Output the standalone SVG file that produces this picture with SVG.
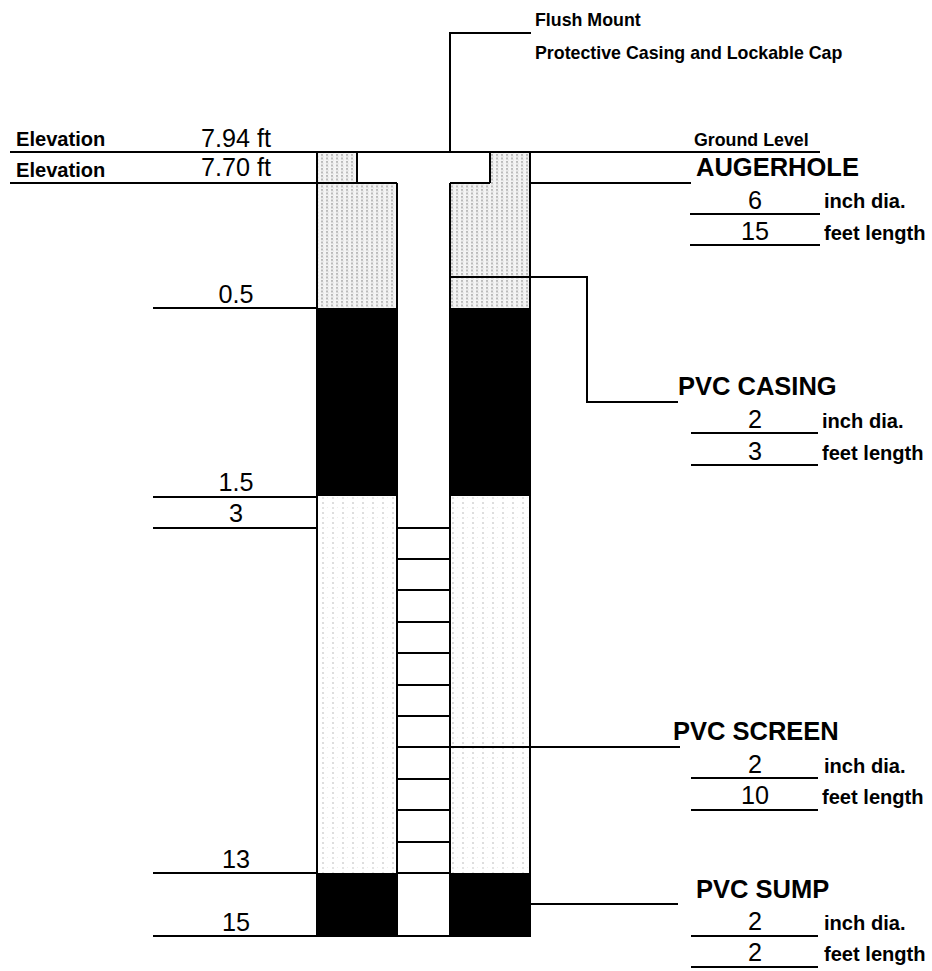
<svg xmlns="http://www.w3.org/2000/svg" width="932" height="971" viewBox="0 0 932 971">
<style>
text{font-family:"Liberation Sans",Arial,sans-serif;fill:#000}
.lbl{font-weight:bold;font-size:20.1px}
.sm{font-weight:bold;font-size:17.8px}
.val{font-size:25.2px}
.hd{font-weight:bold;font-size:25.5px}
.l{stroke:#000;stroke-width:2;fill:none}
</style>
<defs>
<pattern id="dense" width="5" height="3.5" patternUnits="userSpaceOnUse"><rect width="5" height="3.5" fill="#f4f4f4"/><rect x="1" y="0" width="2" height="2" fill="#bbb"/><rect x="3" y="2" width="1" height="1" fill="#ddd"/></pattern>
<pattern id="light" width="10" height="10" patternUnits="userSpaceOnUse"><rect width="10" height="10" fill="#fff"/><rect x="2" y="2" width="2" height="2" fill="#ddd"/><rect x="7" y="7" width="1" height="1" fill="#eee"/><rect x="2" y="7" width="2" height="2" fill="#e4e4e4"/></pattern>
</defs>
<g id="fill-layers">
<rect x="317" y="152" width="40" height="31" fill="url(#dense)"/>
<rect x="490" y="152" width="40" height="31" fill="url(#dense)"/>
<rect x="317" y="183" width="80" height="125" fill="url(#dense)"/>
<rect x="450" y="183" width="80" height="125" fill="url(#dense)"/>
<rect x="316" y="308" width="82" height="188"/>
<rect x="449" y="308" width="82" height="188"/>
<rect x="317" y="496" width="80" height="377" fill="url(#light)"/>
<rect x="450" y="496" width="80" height="377" fill="url(#light)"/>
<rect x="316" y="873" width="82" height="64"/>
<rect x="449" y="873" width="82" height="64"/>
</g>
<g id="connectors">
<path class="l" d="M10 152H820M10 183H397M450 183H490M530 183H691"/>
<path class="l" d="M317 152V936M357 152V183M397 183V936M450 183V936M490 152V183M530 152V936"/>
<path class="l" d="M450 152V33H531"/>
<path class="l" d="M450 277H587V402H678"/>
<path class="l" d="M153 308H317M153 497H317M153 528H317M153 873H317M153 936H530"/>
<path class="l" d="M397 528H450M397 559H450M397 590H450M397 622H450M397 653H450M397 685H450M397 716H450M397 747H680M397 779H450M397 810H450M397 842H450M397 873H450"/>
<path class="l" d="M530 904H678"/>
<path class="l" d="M690 214H820M690 245H820M691 433H818M691 465H818M691 778H818M691 810H818M691 936H818M691 967H818"/>
</g>
<g id="top-labels">
<text class="sm" x="535" y="26">Flush Mount</text>
<text class="sm" x="535" y="59">Protective Casing and Lockable Cap</text>
<text class="sm" x="694" y="146">Ground Level</text>
</g>
<g id="elevations">
<text class="lbl" x="16" y="146">Elevation</text>
<text class="val" x="201" y="147">7.94 ft</text>
<text class="lbl" x="16" y="177">Elevation</text>
<text class="val" x="201" y="176">7.70 ft</text>
</g>
<g id="depths" text-anchor="middle">
<text class="val" x="236" y="303">0.5</text>
<text class="val" x="236" y="491">1.5</text>
<text class="val" x="236" y="522">3</text>
<text class="val" x="236" y="868">13</text>
<text class="val" x="236" y="931">15</text>
</g>
<g id="augerhole">
<text class="hd" x="696" y="176">AUGERHOLE</text>
<text class="val" x="755" y="209" text-anchor="middle">6</text>
<text class="val" x="755" y="240" text-anchor="middle">15</text>
<text class="lbl" x="824" y="208">inch dia.</text>
<text class="lbl" x="824" y="240">feet length</text>
</g>
<g id="pvc-casing">
<text class="hd" x="678" y="395">PVC CASING</text>
<text class="val" x="755" y="428" text-anchor="middle">2</text>
<text class="val" x="755" y="460" text-anchor="middle">3</text>
<text class="lbl" x="822" y="428">inch dia.</text>
<text class="lbl" x="822" y="460">feet length</text>
</g>
<g id="pvc-screen">
<text class="hd" x="673" y="740">PVC SCREEN</text>
<text class="val" x="755" y="773" text-anchor="middle">2</text>
<text class="val" x="755" y="804" text-anchor="middle">10</text>
<text class="lbl" x="824" y="773">inch dia.</text>
<text class="lbl" x="822" y="804">feet length</text>
</g>
<g id="pvc-sump">
<text class="hd" x="696" y="898">PVC SUMP</text>
<text class="val" x="755" y="930" text-anchor="middle">2</text>
<text class="val" x="755" y="961" text-anchor="middle">2</text>
<text class="lbl" x="824" y="930">inch dia.</text>
<text class="lbl" x="824" y="961">feet length</text>
</g>
</svg>
